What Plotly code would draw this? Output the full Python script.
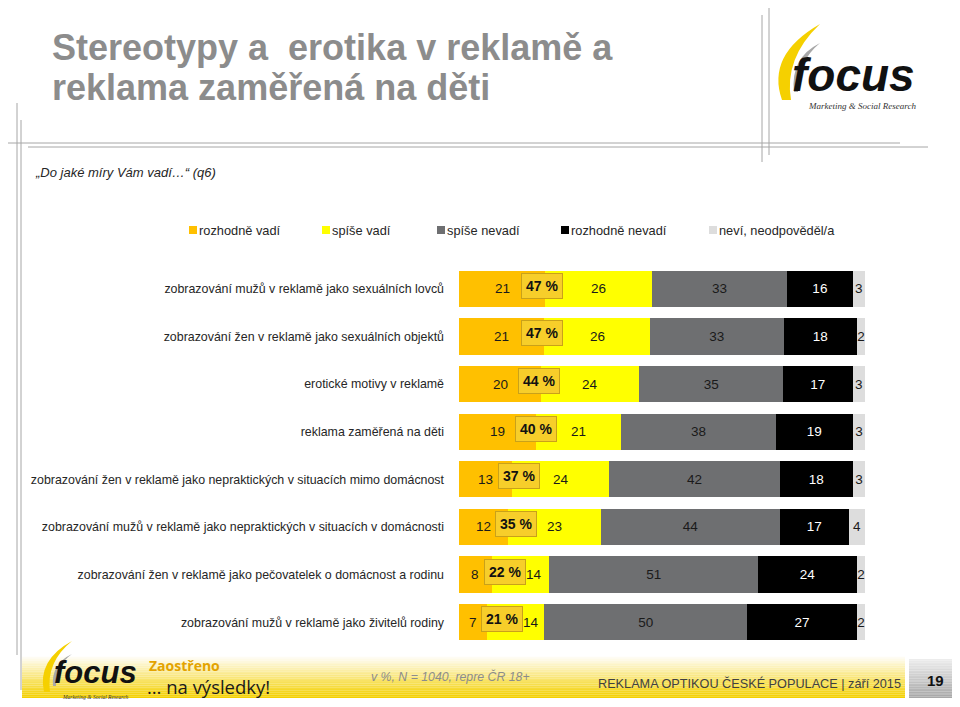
import plotly.graph_objects as go

# ---------------- data ----------------
categories = [
    "zobrazování mužů v reklamě jako sexuálních lovců",
    "zobrazování žen v reklamě jako sexuálních objektů",
    "erotické motivy v reklamě",
    "reklama zaměřená na děti",
    "zobrazování žen v reklamě jako nepraktických v situacích mimo domácnost",
    "zobrazování mužů v reklamě jako nepraktických v situacích v domácnosti",
    "zobrazování žen v reklamě jako pečovatelek o domácnost a rodinu",
    "zobrazování mužů v reklamě jako živitelů rodiny",
]
series_names = ["rozhodně vadí", "spíše vadí", "spíše nevadí", "rozhodně nevadí", "neví, neodpověděl/a"]
rozhodne_vadi = [21, 21, 20, 19, 13, 12, 8, 7]
spise_vadi = [26, 26, 24, 21, 24, 23, 14, 14]
spise_nevadi = [33, 33, 35, 38, 42, 44, 51, 50]
rozhodne_nevadi = [16, 18, 17, 19, 18, 17, 24, 27]
nevi = [3, 2, 3, 3, 3, 4, 2, 2]

colors = ["#FFC000", "#FFFF00", "#6E6F71", "#000000", "#DDDDDD"]
text_colors = ["#1a1a1a", "#1a1a1a", "#1a1a1a", "#FFFFFF", "#1a1a1a"]

SANS = "Liberation Sans, Arial, sans-serif"
OPEN = "Open Sans, Liberation Sans, sans-serif"
SERIF = "Liberation Serif, serif"

# the page places the figure 8px from the top-left corner (default body margin)
OFF = 8
WIN_W, WIN_H = 960, 707
W, H = WIN_W - OFF, WIN_H - OFF
# plot area in window pixels
L, R, T, B = 459, 865, 265, 646
PX_PER_PCT = (R - L) / 100.0


def X(px):
    return (px - L) / (R - L)


def Y(py):
    return (B - py) / (B - T)


fig = go.Figure()
all_series = [rozhodne_vadi, spise_vadi, spise_nevadi, rozhodne_nevadi, nevi]
for idx, (name, vals, col, tc) in enumerate(zip(series_names, all_series, colors, text_colors)):
    fig.add_trace(go.Bar(
        y=categories, x=vals, orientation="h", name=name,
        marker=dict(color=col, line=dict(width=0)),
        text=[str(v) for v in vals],
        # first two series get their labels as annotations (placed around the callout box)
        textposition="none" if idx < 2 else "inside",
        insidetextanchor="middle", constraintext="none", textangle=0,
        textfont=dict(color=tc, size=13.5, family=SANS),
        width=0.76, showlegend=False, hoverinfo="skip",
    ))

annotations = []
shapes = []

BOX_HALF = 19.5 / PX_PER_PCT
for i, cat in enumerate(categories):
    total_sum = sum(s[i] for s in all_series)
    k = 100.0 / total_sum
    o = rozhodne_vadi[i] * k
    y = spise_vadi[i] * k
    box_c = 0.715 * rozhodne_vadi[i] + 5.5
    # callout box with the sum of "vadí"
    annotations.append(dict(
        x=box_c, y=cat, xref="x", yref="y",
        text="<b>%d %%</b>" % (rozhodne_vadi[i] + spise_vadi[i]),
        showarrow=False, yshift=3,
        font=dict(size=14, family=SANS, color="#111111"),
        bgcolor="#F7CE2A", bordercolor="#C9A11A", borderwidth=1, borderpad=4,
    ))
    # orange segment label
    so = str(rozhodne_vadi[i])
    hw = len(so) * 3.8 / PX_PER_PCT
    xo = min(o / 2, box_c - BOX_HALF - 2 / PX_PER_PCT - hw)
    annotations.append(dict(x=xo, y=cat, xref="x", yref="y", text=so, showarrow=False,
                            font=dict(size=13.5, family=SANS, color=text_colors[0])))
    # yellow segment label
    sy = str(spise_vadi[i])
    hw = len(sy) * 3.8 / PX_PER_PCT
    xy = max(o + y / 2, box_c + BOX_HALF + 2 / PX_PER_PCT + hw)
    annotations.append(dict(x=xy, y=cat, xref="x", yref="y", text=sy, showarrow=False,
                            font=dict(size=13.5, family=SANS, color=text_colors[1])))

# legend drawn as squares + labels
legend_x = [189, 322, 437, 561, 709]
for name, col, lx in zip(series_names, colors, legend_x):
    shapes.append(dict(type="rect", xref="paper", yref="paper",
                       x0=X(lx), x1=X(lx + 8), y0=Y(234), y1=Y(226),
                       fillcolor=col, line=dict(width=0)))
    annotations.append(dict(x=X(lx + 8), y=Y(230), xref="paper", yref="paper",
                            text=name, showarrow=False, xanchor="left", yanchor="middle",
                            font=dict(size=12.8, family=SANS, color="#262626")))

# title
for txt, yy in [("Stereotypy a  erotika v reklamě a", 47), ("reklama zaměřená na děti", 88)]:
    annotations.append(dict(x=X(50), y=Y(yy), xref="paper", yref="paper",
                            text="<b>%s</b>" % txt, showarrow=False,
                            xanchor="left", yanchor="middle",
                            font=dict(size=36, family=SANS, color="#8C8C8C")))
# subtitle
annotations.append(dict(x=X(33), y=Y(172), xref="paper", yref="paper",
                        text="<i>„Do jaké míry Vám vadí…“ (q6)</i>", showarrow=False,
                        xanchor="left", yanchor="middle",
                        font=dict(size=13, family=SANS, color="#262626")))

# decorative lines
line_col = "#A6A6A6"
for x0, x1, y0, y1 in [(0, 900, 143, 143), (28, 928, 147, 147), (17, 17, 103, 655),
                       (21, 21, 120, 690), (762, 762, 15, 162), (769, 769, 0, 155)]:
    shapes.append(dict(type="line", xref="paper", yref="paper", x0=X(x0), x1=X(x1),
                       y0=Y(y0), y1=Y(y1), line=dict(color=line_col, width=1)))


def swoosh(pts):
    s = ""
    for cmd, coords in pts:
        s += cmd + " ".join("%.5f,%.5f" % (X(a), Y(b)) for a, b in coords) + " "
    return s + "Z"


# top-right logo
shapes.append(dict(type="path", xref="paper", yref="paper", fillcolor="#F5D000",
                   line=dict(width=0),
                   path=swoosh([("M", [(782, 100)]), ("Q", [(766, 55), (820, 24)]),
                                ("Q", [(784, 58), (791, 100)])])))
shapes.append(dict(type="path", xref="paper", yref="paper", fillcolor="#A8A8A8",
                   line=dict(width=0),
                   path=swoosh([("M", [(794, 92)]), ("Q", [(790, 58), (820, 43)]),
                                ("Q", [(797, 62), (798, 92)])])))
annotations.append(dict(x=X(853), y=Y(75), xref="paper", yref="paper",
                        text="<b><i>focus</i></b>", showarrow=False,
                        xanchor="center", yanchor="middle",
                        font=dict(size=46, family=SANS, color="#111111")))
annotations.append(dict(x=X(862), y=Y(106), xref="paper", yref="paper",
                        text="<i>Marketing &amp; Social Research</i>", showarrow=False,
                        xanchor="center", yanchor="middle",
                        font=dict(size=9, family=SERIF, color="#333333")))

# footer gradient band
n = 24
top, bot = 655, 698
c0 = (255, 255, 255)
c1 = (244, 208, 0)
for kk in range(n):
    f = kk / (n - 1)
    col = tuple(int(c0[j] + (c1[j] - c0[j]) * f) for j in range(3))
    y0 = top + (bot - top) * kk / n
    y1 = top + (bot - top) * (kk + 1) / n
    shapes.append(dict(type="rect", xref="paper", yref="paper", x0=X(22), x1=X(905),
                       y0=Y(y1), y1=Y(y0), fillcolor="rgb(%d,%d,%d)" % col,
                       line=dict(width=0), layer="below"))
# page number box
g0 = (236, 236, 236)
g1 = (168, 168, 168)
for kk in range(n):
    f = kk / (n - 1)
    col = tuple(int(g0[j] + (g1[j] - g0[j]) * f) for j in range(3))
    y0 = 659 + (698 - 659) * kk / n
    y1 = 659 + (698 - 659) * (kk + 1) / n
    shapes.append(dict(type="rect", xref="paper", yref="paper", x0=X(909), x1=X(956),
                       y0=Y(y1), y1=Y(y0), fillcolor="rgb(%d,%d,%d)" % col,
                       line=dict(width=0), layer="below"))
annotations.append(dict(x=X(935), y=Y(680), xref="paper", yref="paper",
                        text="<b>19</b>", showarrow=False, xanchor="center", yanchor="middle",
                        font=dict(size=15, family=SANS, color="#111111")))

# footer logo
shapes.append(dict(type="path", xref="paper", yref="paper", fillcolor="#F5D000",
                   line=dict(width=0),
                   path=swoosh([("M", [(44, 692)]), ("Q", [(37, 660), (72, 641)]),
                                ("Q", [(46, 662), (50, 692)])])))
shapes.append(dict(type="path", xref="paper", yref="paper", fillcolor="#A8A8A8",
                   line=dict(width=0),
                   path=swoosh([("M", [(53, 686)]), ("Q", [(51, 664), (72, 654)]),
                                ("Q", [(55, 666), (56, 686)])])))
annotations.append(dict(x=X(95), y=Y(672), xref="paper", yref="paper",
                        text="<b><i>focus</i></b>", showarrow=False,
                        xanchor="center", yanchor="middle",
                        font=dict(size=31, family=SANS, color="#111111")))
annotations.append(dict(x=X(95), y=Y(697), xref="paper", yref="paper",
                        text="<i>Marketing &amp; Social Research</i>", showarrow=False,
                        xanchor="center", yanchor="middle",
                        font=dict(size=5.5, family=SERIF, color="#333333")))
annotations.append(dict(x=X(147), y=Y(665), xref="paper", yref="paper",
                        text="<b>Zaostřeno</b>", showarrow=False, xanchor="left", yanchor="middle",
                        font=dict(size=14, family=OPEN, color="#E3A300")))
annotations.append(dict(x=X(145), y=Y(686), xref="paper", yref="paper",
                        text="… na výsledky!", showarrow=False, xanchor="left", yanchor="middle",
                        font=dict(size=18.5, family=OPEN, color="#1a1a1a")))
annotations.append(dict(x=X(369), y=Y(676), xref="paper", yref="paper",
                        text="<i>v %, N = 1040, repre ČR 18+</i>", showarrow=False,
                        xanchor="left", yanchor="middle",
                        font=dict(size=12.3, family=SANS, color="#8C8C8C")))
annotations.append(dict(x=X(903), y=Y(683), xref="paper", yref="paper",
                        text="REKLAMA OPTIKOU ČESKÉ POPULACE | září 2015", showarrow=False,
                        xanchor="right", yanchor="middle",
                        font=dict(size=12.7, family=SANS, color="#404040")))

fig.update_layout(
    width=W, height=H,
    margin=dict(l=L - OFF, r=WIN_W - R, t=T - OFF, b=WIN_H - B, pad=0),
    barmode="stack", barnorm="percent",
    plot_bgcolor="white", paper_bgcolor="white",
    showlegend=False,
    xaxis=dict(range=[0, 100], visible=False, fixedrange=True, automargin=False),
    yaxis=dict(categoryorder="array", categoryarray=categories, range=[7.5, -0.5],
               showgrid=False, zeroline=False, showline=False, ticks="",
               ticklabelstandoff=14, automargin=False,
               tickfont=dict(size=12.4, family=SANS, color="#262626"), fixedrange=True),
    annotations=annotations, shapes=shapes,
)

fig.write_html("out.html")
